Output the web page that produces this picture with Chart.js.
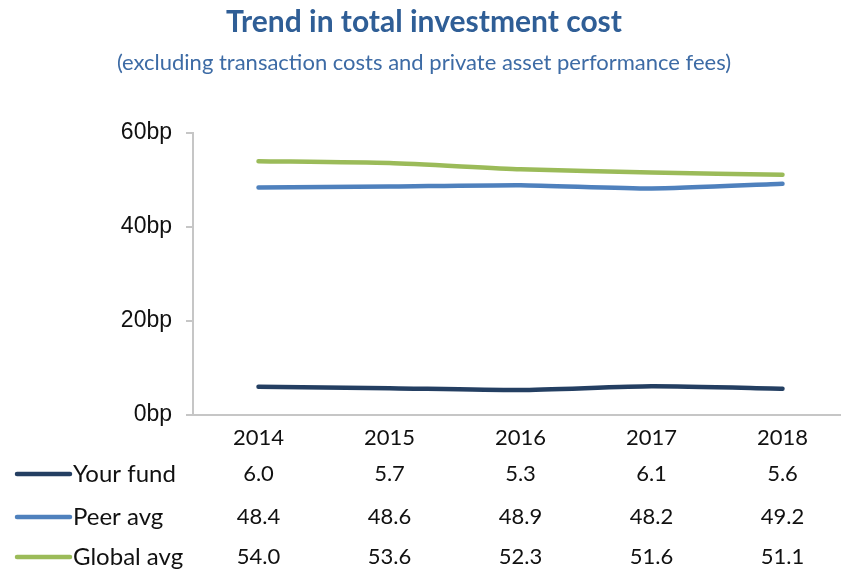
<!DOCTYPE html>
<html>
<head>
<meta charset="utf-8">
<script src="https://cdn.jsdelivr.net/npm/chart.js@4"></script>
<style>
  html, body { margin: 0; padding: 0; background: #fff; overflow: hidden; }
  #wrap { width: 848px; height: 573px; }
</style>
</head>
<body>
<div id="wrap"><canvas id="costChart"></canvas></div>
<script>
// data
const years = ['2014', '2015', '2016', '2017', '2018'];
const yourFund = [6.0, 5.7, 5.3, 6.1, 5.6];
const peerAvg = [48.4, 48.6, 48.9, 48.2, 49.2];
const globalAvg = [54.0, 53.6, 52.3, 51.6, 51.1];
const seriesNames = ['Your fund', 'Peer avg', 'Global avg'];
const seriesColors = ['#243F62', '#4F81BD', '#9BBB59'];

// draw the data table under the plot (legend key + values per year)
const dataTable = {
  id: 'dataTable',
  afterDraw(chart) {
    const ctx = chart.ctx;
    const x = chart.scales.x;
    const rowsY = [474, 517, 557];
    ctx.save();
    ctx.textBaseline = 'middle';
    ctx.fillStyle = '#111';
    chart.data.datasets.forEach((ds, r) => {
      const y = rowsY[r];
      // legend key
      ctx.strokeStyle = ds.borderColor;
      ctx.lineWidth = 4.5;
      ctx.lineCap = 'round';
      ctx.beginPath();
      ctx.moveTo(17, y);
      ctx.lineTo(70, y);
      ctx.stroke();
      ctx.textAlign = 'left';
      ctx.font = '24px Lato, "Open Sans", sans-serif';
      ctx.fillText(ds.label, 73, y);
      // values
      ctx.textAlign = 'center';
      ctx.font = '22px Lato, "Open Sans", sans-serif';
      ds.data.forEach((v, i) => {
        ctx.fillText(v.toFixed(1), x.getPixelForValue(i), y);
      });
    });
    ctx.restore();
  }
};

const mkSet = (i, data) => ({
  label: seriesNames[i],
  data: data,
  borderColor: seriesColors[i],
  backgroundColor: seriesColors[i],
  borderWidth: 4.5,
  borderCapStyle: 'round',
  pointRadius: 0,
  tension: 0.2
});

new Chart(document.getElementById('costChart'), {
  type: 'line',
  data: {
    labels: years,
    datasets: [mkSet(0, yourFund), mkSet(1, peerAvg), mkSet(2, globalAvg)]
  },
  options: {
    responsive: true,
    maintainAspectRatio: false,
    animation: false,
    layout: { padding: { top: 2, bottom: 118, left: 0, right: 0 } },
    plugins: {
      legend: { display: false },
      tooltip: { enabled: false },
      title: {
        display: true,
        text: 'Trend in total investment cost',
        color: '#2F5E96',
        font: { family: 'Lato, "Open Sans", sans-serif', size: 30, weight: 'bold' },
        padding: { top: 2, bottom: 10 }
      },
      subtitle: {
        display: true,
        text: '(excluding transaction costs and private asset performance fees)',
        color: '#3D6BA5',
        font: { family: 'Lato, "Open Sans", sans-serif', size: 22 },
        padding: { top: 0, bottom: 56.6 }
      }
    },
    scales: {
      x: {
        offset: true,
        grid: { display: false, drawTicks: false },
        border: { display: true, color: '#C6C6C6', width: 2 },
        ticks: {
          color: '#111',
          padding: 10,
          font: { family: 'Lato, "Open Sans", sans-serif', size: 22 }
        },
        afterFit: s => { s.height = 40; }
      },
      y: {
        min: 0,
        max: 60,
        grid: { drawOnChartArea: false, drawTicks: true, tickLength: 7, color: '#C6C6C6', lineWidth: 2 },
        border: { display: true, color: '#C6C6C6', width: 2 },
        ticks: {
          stepSize: 20,
          color: '#111',
          padding: 14,
          font: { family: '"Liberation Sans", Arial, sans-serif', size: 23 },
          callback: v => v + 'bp'
        },
        afterFit: s => { s.width = 193; }
      }
    }
  },
  plugins: [dataTable]
});
</script>
</body>
</html>
